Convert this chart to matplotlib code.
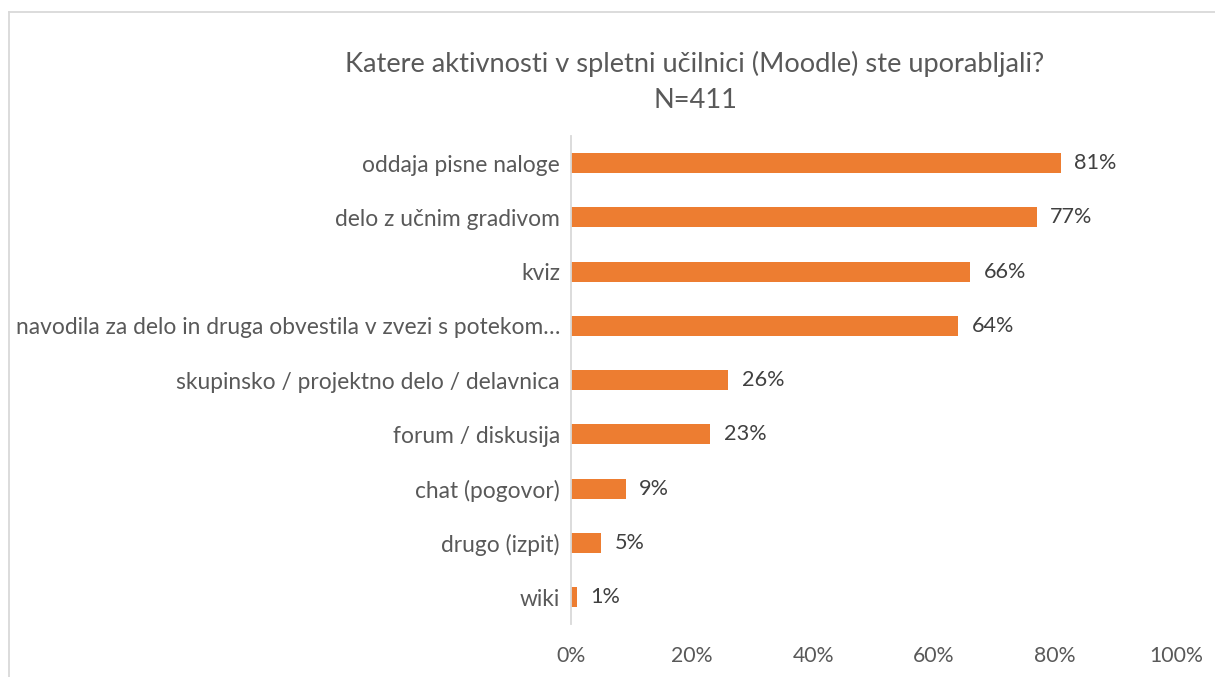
import numpy as np
import matplotlib
matplotlib.use("Agg")
import matplotlib.pyplot as plt
from matplotlib.lines import Line2D

plt.rcParams['font.family'] = ['Lato', 'DejaVu Sans']

categories = [
    "oddaja pisne naloge",
    "delo z učnim gradivom",
    "kviz",
    "navodila za delo in druga obvestila v zvezi s potekom…",
    "skupinsko / projektno delo / delavnica",
    "forum / diskusija",
    "chat (pogovor)",
    "drugo (izpit)",
    "wiki",
]
values = [81, 77, 66, 64, 26, 23, 9, 5, 1]
ticks = [0, 20, 40, 60, 80, 100]
tick_labels = ["0%", "20%", "40%", "60%", "80%", "100%"]

orange = "#ED7D31"
grey = "#595959"

fig = plt.figure(figsize=(12.15, 6.77), dpi=100)
ax = fig.add_axes([0.47, 0.078, 0.498, 0.721])

y = np.arange(len(categories))
ax.barh(y, values, height=0.37, color=orange)
ax.set_ylim(len(categories) - 0.5, -0.5)
ax.set_xlim(0, 100)

for yi, v in zip(y, values):
    ax.text(v + 2.2, yi, f"{v}%", va="center", ha="left", fontsize=15.6, color="#404040")

ax.set_yticks(y)
ax.set_yticklabels(categories, fontsize=16.4, color=grey)
ax.set_xticks(ticks)
ax.set_xticklabels(tick_labels, fontsize=15.3, color=grey)
ax.tick_params(axis="both", length=0)
ax.tick_params(axis="y", pad=8)
ax.tick_params(axis="x", pad=16)

for s in ["top", "right", "bottom"]:
    ax.spines[s].set_visible(False)
ax.spines["left"].set_color("#D9D9D9")
ax.spines["left"].set_linewidth(1.3)

fig.text(0.572, 0.905, "Katere aktivnosti v spletni učilnici (Moodle) ste uporabljali?",
         ha="center", va="center", fontsize=19.6, color=grey)
fig.text(0.572, 0.851, "N=411", ha="center", va="center", fontsize=19.6, color=grey)

# chart frame (top and left edges visible)
fig.add_artist(Line2D([0.007, 1.0], [0.983, 0.983], color="#D9D9D9", lw=1.3, transform=fig.transFigure))
fig.add_artist(Line2D([0.007, 0.007], [0.983, 0.0], color="#D9D9D9", lw=1.3, transform=fig.transFigure))

fig.savefig("out.png", dpi=100)
